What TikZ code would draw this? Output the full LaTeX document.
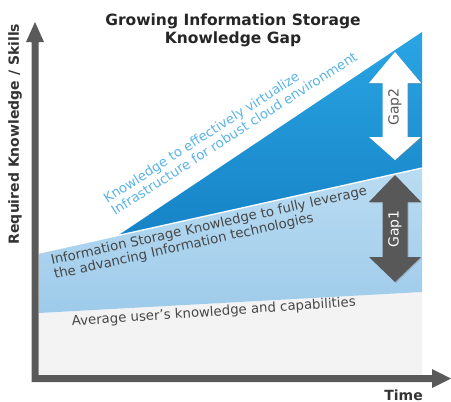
\documentclass[tikz,border=0pt]{standalone}
\usepackage{fontspec}
\setmainfont{DejaVu Sans}
\usetikzlibrary{shadows}
\definecolor{axisgray}{HTML}{5A5A5A}
\definecolor{bluetop}{HTML}{2AA5E4}
\definecolor{bluebot}{HTML}{1683C6}
\definecolor{lbtop}{HTML}{BADCF2}
\definecolor{lbbot}{HTML}{9ECBEA}
\definecolor{greybg}{HTML}{F3F3F3}
\definecolor{bluetext}{HTML}{5AB4E6}
\definecolor{greytext}{HTML}{474747}
\definecolor{gapgray}{HTML}{585858}
\tikzset{
  slopetext/.style={anchor=base west, inner sep=0pt, align=left, font=\fontsize{13.3}{14.5}\selectfont},
  gaparrow/.style={drop shadow={shadow xshift=1pt, shadow yshift=-1pt, opacity=0.35}},
  gaplabel/.style={rotate=90, inner sep=0pt, font=\fontsize{14}{16}\selectfont}
}
\begin{document}
\begin{tikzpicture}[x=1pt,y=-1pt]
\useasboundingbox (0,0) rectangle (451,402);
% regions
\fill[greybg] (39,313) -- (422,292) -- (422,375) -- (39,375) -- cycle;
\shade[top color=lbtop, bottom color=lbbot] (39,253) -- (422,168) -- (422,292) -- (39,313) -- cycle;
\shade[top color=bluetop, bottom color=bluebot] (118,235.5) -- (422,32) -- (422,168) -- cycle;
\draw[white, line width=1.3pt] (39,253) -- (422,168);
% axes
\fill[axisgray] (31.5,382) -- (31.5,42) -- (26,42) -- (35,22) -- (44,42) -- (38.5,42)
  -- (38.5,375) -- (432,375) -- (432,369) -- (451,378.5) -- (432,388) -- (432,382) -- cycle;
% gap arrows
\fill[white, gaparrow] (395,52) -- (421,83) -- (407.5,83) -- (407.5,137) -- (421,137) -- (395,160)
  -- (369,137) -- (382.5,137) -- (382.5,83) -- (369,83) -- cycle;
\fill[gapgray, gaparrow] (395,175) -- (421,202) -- (407.5,202) -- (407.5,257) -- (421,257) -- (395,282)
  -- (369,257) -- (382.5,257) -- (382.5,202) -- (369,202) -- cycle;
\node[gaplabel, text=gapgray] (gap2) at (395,107) {Gap2};
\node[gaplabel, text=white] (gap1) at (395,229) {Gap1};
% title and axis labels
\node[align=center, font=\bfseries\fontsize{15.5}{18}\selectfont, text=black!85] (title) at (233,30) {Growing Information Storage\\Knowledge Gap};
\node[rotate=90, font=\bfseries\fontsize{14}{16}\selectfont, text=black!80] (ylabel) at (15,134) {Required Knowledge / Skills};
\node[anchor=base east, inner sep=0pt, font=\bfseries\fontsize{14}{16}\selectfont, text=black!80] (xlabel) at (423,400) {Time};
% slope texts
\node[slopetext, rotate=32.8, text=bluetext] (cloud) at (115,216) {Knowledge to effectively virtualize\\Infrastructure for robust cloud environment};
\node[slopetext, rotate=12.5, text=greytext] (stor) at (55,279) {Information Storage Knowledge to fully leverage\\the advancing Information technologies};
\node[slopetext, rotate=4, text=greytext] (avg) at (72,326) {Average user’s knowledge and capabilities};
\end{tikzpicture}
\end{document}
